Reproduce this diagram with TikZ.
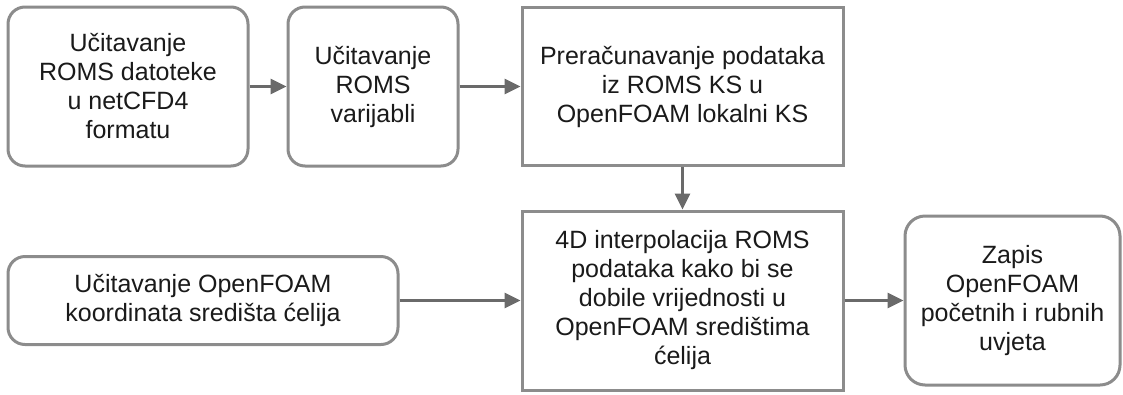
\documentclass[tikz,border=0pt]{standalone}
\usepackage{fontspec}
\setmainfont{Liberation Sans}
\usepackage{tikz}
\usetikzlibrary{arrows.meta}
\definecolor{boxgray}{HTML}{8C8C8C}
\definecolor{arrgray}{HTML}{6A6A6A}
\definecolor{txtgray}{HTML}{1A1A1A}

\begin{document}
\begin{tikzpicture}[x=1pt,y=-1pt,
  korak/.style={draw=boxgray,line width=3pt,fill=white,inner sep=0pt,align=center,
    text=txtgray,font=\fontsize{25}{29}\selectfont},
  zaobljen/.style={korak,rounded corners=17pt},
  tok/.style={draw=arrgray,line width=3pt,-{Triangle[length=16pt,width=15pt]}}]
\useasboundingbox (0,0) rectangle (1123,394);
\node[zaobljen,minimum width=240,minimum height=159] (ucitROMS) at (128,86.5)
  {Učitavanje\\ROMS datoteke\\u netCFD4\\formatu};
\node[zaobljen,minimum width=170,minimum height=159] (varROMS) at (373,86.5)
  {Učitavanje\\ROMS\\varijabli};
\node[korak,minimum width=321,minimum height=158] (preracun) at (682.5,86.5)
  {Preračunavanje podataka\\iz ROMS KS u\\OpenFOAM lokalni KS};
\node[korak,minimum width=321,minimum height=179] (interp) at (682.5,300.5)
  {4D interpolacija ROMS\\podataka kako bi se\\dobile vrijednosti u\\OpenFOAM središtima\\ćelija};
\node[zaobljen,minimum width=390,minimum height=88] (ucitFOAM) at (203,300.5)
  {Učitavanje OpenFOAM\\koordinata središta ćelija};
\node[zaobljen,rounded corners=20pt,minimum width=215,minimum height=169] (zapis) at (1012.5,300.5)
  {Zapis\\OpenFOAM\\početnih i rubnih\\uvjeta};
\draw[tok] (ucitROMS) -- (varROMS);
\draw[tok] (varROMS) -- (preracun);
\draw[tok] (preracun) -- (interp);
\draw[tok] (ucitFOAM) -- (interp);
\draw[tok] (interp) -- (zapis);
\end{tikzpicture}
\end{document}
